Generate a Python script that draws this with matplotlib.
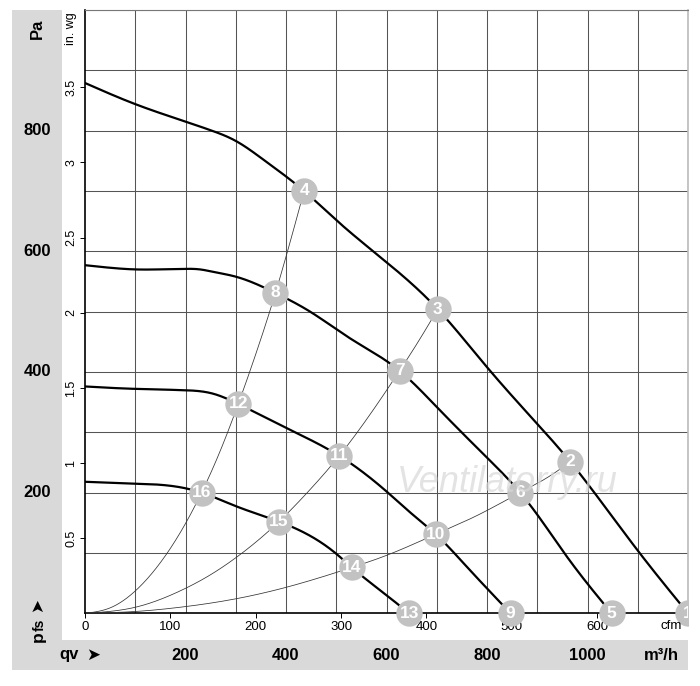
import numpy as np
import matplotlib
matplotlib.use("Agg")
import matplotlib.pyplot as plt
from matplotlib.patches import Rectangle
from matplotlib.transforms import Bbox, TransformedBbox

plt.rcParams['font.family'] = ['Liberation Sans', 'DejaVu Sans']

# ---------------- data ----------------
# fan curves: x = air flow qv [m3/h], y = static pressure pfs [Pa]
curveA_x = [0, 100, 200, 249, 300, 355, 436, 501, 600, 702, 800, 900, 966, 1000, 1100, 1200]
curveA_y = [879, 844, 815, 801, 783, 752, 700, 651, 582, 504, 408, 314, 251, 215, 104, 0]
curveB_x = [0, 60, 100, 200, 229, 255, 300, 379, 448, 527, 626, 700, 800, 866, 910, 952, 1000, 1048]
curveB_y = [577, 572, 570, 571, 570, 566, 558, 531, 500, 456, 402, 342, 258, 200, 152, 102, 49, 0]
curveC_x = [0, 100, 150, 189, 255, 305, 401, 506, 600, 653, 698, 760, 847]
curveC_y = [376, 372, 371, 370, 364, 347, 307, 261, 202, 163, 131, 77, 0]
curveD_x = [0, 100, 150, 189, 232, 302, 386, 501, 531, 600, 645]
curveD_y = [218, 215, 213, 209, 200, 177, 152, 98, 76, 30, 0]

# system (resistance) curves through the operating points
sys1_x = [0, 50, 100, 150, 189, 232, 270, 305, 340, 379, 400, 436]
sys1_y = [0, 9, 37, 84, 133, 200, 271, 347, 430, 531, 591, 700]
sys2_x = [0, 100, 189, 250, 300, 386, 450, 506, 560, 626, 660, 702]
sys2_y = [0, 10, 37, 64, 92, 152, 207, 261, 321, 402, 446, 504]
sys3_x = [0, 100, 189, 300, 400, 531, 600, 698, 780, 866, 920, 966]
sys3_y = [0, 3, 10, 24, 43, 76, 96, 131, 162, 200, 225, 251]

# operating points
pt_labels = ['1', '2', '3', '4', '5', '6', '7', '8', '9', '10', '11', '12', '13', '14', '15', '16']
pt_x = [1200, 966, 702, 436, 1048, 866, 626, 379, 847, 698, 506, 305, 645, 531, 386, 232]
pt_y = [0, 251, 504, 700, 0, 200, 402, 531, 0, 131, 261, 347, 0, 76, 152, 200]

pa_labels = [200, 400, 600, 800]
m3h_labels = [200, 400, 600, 800, 1000]
inwg_ticks = [0.5, 1, 1.5, 2, 2.5, 3, 3.5]
cfm_ticks = [0, 100, 200, 300, 400, 500, 600]

PA_PER_INWG = 249.09
M3H_PER_CFM = 1.699


def natural_spline(x, y, xs):
    x = np.asarray(x, float)
    y = np.asarray(y, float)
    n = len(x)
    h = np.diff(x)
    A = np.zeros((n, n))
    r = np.zeros(n)
    A[0, 0] = 1.0
    A[-1, -1] = 1.0
    for i in range(1, n - 1):
        A[i, i - 1] = h[i - 1]
        A[i, i] = 2 * (h[i - 1] + h[i])
        A[i, i + 1] = h[i]
        r[i] = 6 * ((y[i + 1] - y[i]) / h[i] - (y[i] - y[i - 1]) / h[i - 1])
    M = np.linalg.solve(A, r)
    idx = np.clip(np.searchsorted(x, xs) - 1, 0, n - 2)
    x0, x1 = x[idx], x[idx + 1]
    hh = h[idx]
    a = (x1 - xs) / hh
    b = (xs - x0) / hh
    return (a * y[idx] + b * y[idx + 1]
            + ((a**3 - a) * M[idx] + (b**3 - b) * M[idx + 1]) * hh**2 / 6.0)


def smooth(x, y):
    xs = np.linspace(x[0], x[-1], 500)
    return xs, natural_spline(x, y, xs)


W, H = 700, 686
fig = plt.figure(figsize=(7.0, 6.86), dpi=100)
fig.patch.set_facecolor('white')


def fx(px):
    return px / W


def fy(py):
    return 1 - py / H


band = '#d9d9d9'
fig.add_artist(Rectangle((fx(12), fy(670)), fx(62) - fx(12), fy(10) - fy(670),
                         transform=fig.transFigure, color=band, zorder=-5, lw=0))
fig.add_artist(Rectangle((fx(12), fy(670)), fx(688) - fx(12), fy(640) - fy(670),
                         transform=fig.transFigure, color=band, zorder=-5, lw=0))

ax = fig.add_axes([fx(85), fy(613.3), fx(688) - fx(85), fy(10) - fy(613.3)])
ax.set_xlim(0, 1200)
ax.set_ylim(0, 1000)

# grid (minor ticks = m3/h and Pa)
ax.set_xticks(np.arange(0, 1201, 100), minor=True)
ax.set_yticks(np.arange(0, 1001, 100), minor=True)
ax.grid(which='minor', color='#555555', lw=0.75, zorder=1)
ax.tick_params(which='minor', length=0)

# major ticks = cfm and in. wg
ax.set_xticks([c * M3H_PER_CFM for c in cfm_ticks])
ax.set_xticklabels([str(c) for c in cfm_ticks], fontsize=9.5)
ax.set_yticks([v * PA_PER_INWG for v in inwg_ticks])
ax.set_yticklabels([('%g' % v) for v in inwg_ticks], fontsize=9, rotation=90, va='center')
ax.tick_params(which='major', direction='out', length=3.5, width=0.7, color='black', pad=2)

for s in ['left', 'bottom']:
    ax.spines[s].set_color('black')
    ax.spines[s].set_linewidth(1.2)
ax.spines['top'].set_color('#777777')
ax.spines['top'].set_linewidth(0.8)
ax.spines['right'].set_color('#bbbbbb')
ax.spines['right'].set_linewidth(1.2)

# watermark
fig.text(fx(507), fy(482), 'Ventilatorry.ru', fontsize=26, style='italic',
         color='#d8d8d8', alpha=0.7, ha='center', va='center', zorder=0.5,
         family=['Liberation Sans'])

# system curves
for sx, sy in [(sys1_x, sys1_y), (sys2_x, sys2_y), (sys3_x, sys3_y)]:
    xs, ys = smooth(sx, sy)
    ax.plot(xs, ys, color='#333333', lw=0.55, zorder=3, solid_capstyle='butt')

# fan curves
for cx, cy in [(curveA_x, curveA_y), (curveB_x, curveB_y), (curveC_x, curveC_y), (curveD_x, curveD_y)]:
    xs, ys = smooth(cx, cy)
    ax.plot(xs, ys, color='black', lw=1.6, zorder=4)

clip = TransformedBbox(Bbox([[0, 0], [688 / W, 1]]), fig.transFigure)
for lab, x, y in zip(pt_labels, pt_x, pt_y):
    ln, = ax.plot([x], [y], 'o', ms=19, mfc='#c2c2c2', mec='none', zorder=6, clip_on=False)
    ln.set_clip_box(clip)
    ln.set_clip_on(True)
    t = ax.text(x, y, lab, ha='center', va='center', color='white', fontsize=12.5,
                fontweight='bold', zorder=7)
    t.set_clip_box(clip)
    t.set_clip_on(True)

# axis titles and unit labels
fig.text(fx(37), fy(29), 'Pa', rotation=90, fontsize=12, fontweight='bold', ha='center', va='center')
for p in pa_labels:
    fig.text(fx(37), fy(613.3 - p * 0.6033), str(p), fontsize=12, fontweight='bold',
             ha='center', va='center')
fig.text(fx(71), fy(12), 'in. wg', rotation=90, fontsize=9, ha='center', va='top')
fig.text(fx(38), fy(642), 'p', rotation=90, fontsize=12.5, fontweight='bold', ha='center', va='bottom')
fig.text(fx(40), fy(631), 'fs', rotation=90, fontsize=10, fontweight='bold', ha='center', va='bottom')
fig.text(fx(37), fy(605), '\u27a4', rotation=90, fontsize=12, ha='center', va='center',
         family=['DejaVu Sans'])

fig.text(fx(59), fy(655), 'qv', fontsize=12, fontweight='bold', ha='left', va='center')
fig.text(fx(93), fy(655), '\u27a4', fontsize=12, ha='center', va='center', family=['DejaVu Sans'])
for q in m3h_labels:
    fig.text(fx(85 + q * 603 / 1200), fy(655), str(q), fontsize=12, fontweight='bold',
             ha='center', va='center')
fig.text(fx(661), fy(655), 'm³/h', fontsize=12, fontweight='bold', ha='center', va='center')
fig.text(fx(671), fy(626), 'cfm', fontsize=9.5, ha='center', va='center')

fig.savefig('out.png', dpi=100, facecolor='white')
